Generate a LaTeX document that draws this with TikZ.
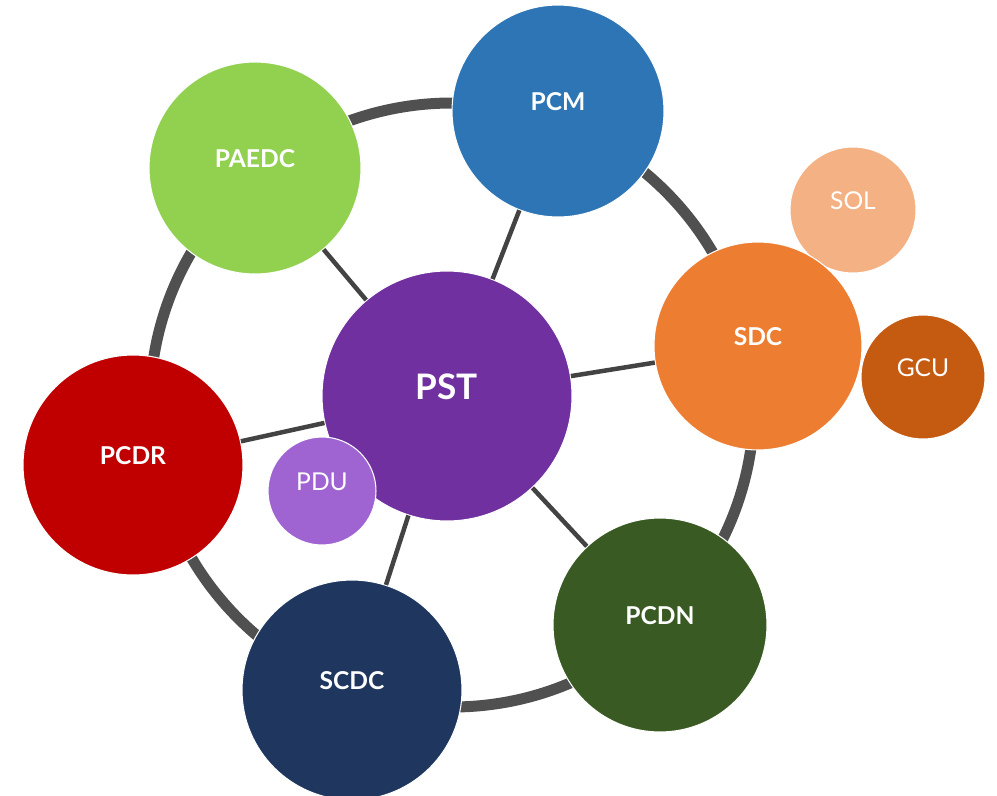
\documentclass[tikz,border=0pt]{standalone}
\usepackage{fontspec}
\setmainfont{Lato}
\usepackage{tikz}
\usetikzlibrary{positioning}
\definecolor{cPCM}{HTML}{2E75B6}
\definecolor{cPAEDC}{HTML}{92D050}
\definecolor{cSOL}{HTML}{F4B183}
\definecolor{cSDC}{HTML}{ED7D31}
\definecolor{cGCU}{HTML}{C55A11}
\definecolor{cPST}{HTML}{7030A0}
\definecolor{cPCDR}{HTML}{C00000}
\definecolor{cPDU}{HTML}{A064D2}
\definecolor{cPCDN}{HTML}{3A5A23}
\definecolor{cSCDC}{HTML}{1F375F}
\definecolor{ringgray}{HTML}{505050}
\definecolor{spokegray}{HTML}{434343}
\tikzset{
	bubble/.style={circle, fill=#1, draw=white, line width=0.6pt, inner sep=0pt,
		text=white, text depth=11pt,
		font=\fontsize{14}{14}\selectfont\bfseries},
	bubble small/.style={bubble=#1, font=\fontsize{14}{14}\selectfont},
	orbit/.style={draw=ringgray, line width=0.22cm},
	spoke/.style={draw=spokegray, line width=0.09cm}
}

\begin{document}
\begin{tikzpicture}[x=0.02cm, y=-0.02cm]
    \useasboundingbox (0,0) rectangle (997,795);
    % outer ring
    \draw[orbit] (452,405) circle [radius=302];
    % satellites
    \node[bubble=cPCM, minimum size=4.24cm] (PCM) at (558,111) {PCM};
    \node[bubble=cPAEDC, minimum size=4.24cm] (PAEDC) at (255,168) {PAEDC};
    \node[bubble small=cSOL, minimum size=2.52cm] (SOL) at (853,210) {SOL};
    \node[bubble=cSDC, minimum size=4.16cm] (SDC) at (758,346) {SDC};
    \node[bubble small=cGCU, minimum size=2.48cm] (GCU) at (923,377) {GCU};
    \node[bubble=cPCDR, minimum size=4.4cm] (PCDR) at (133,465) {PCDR};
    \node[bubble=cPCDN, minimum size=4.28cm] (PCDN) at (660,625) {PCDN};
    \node[bubble=cSCDC, minimum size=4.4cm] (SCDC) at (352,690) {SCDC};
    % centre
    \node[bubble=cPST, minimum size=5cm, font=\fontsize{20}{20}\selectfont\bfseries] (PST) at (447,396) {PST};
    \node[bubble small=cPDU, minimum size=2.16cm] (PDU) at (322,491) {PDU};
    % spokes
    \foreach \n in {PCM,PAEDC,SDC,PCDR,PCDN,SCDC}
      \draw[spoke] (PST) -- (\n);
\end{tikzpicture}
\end{document}
